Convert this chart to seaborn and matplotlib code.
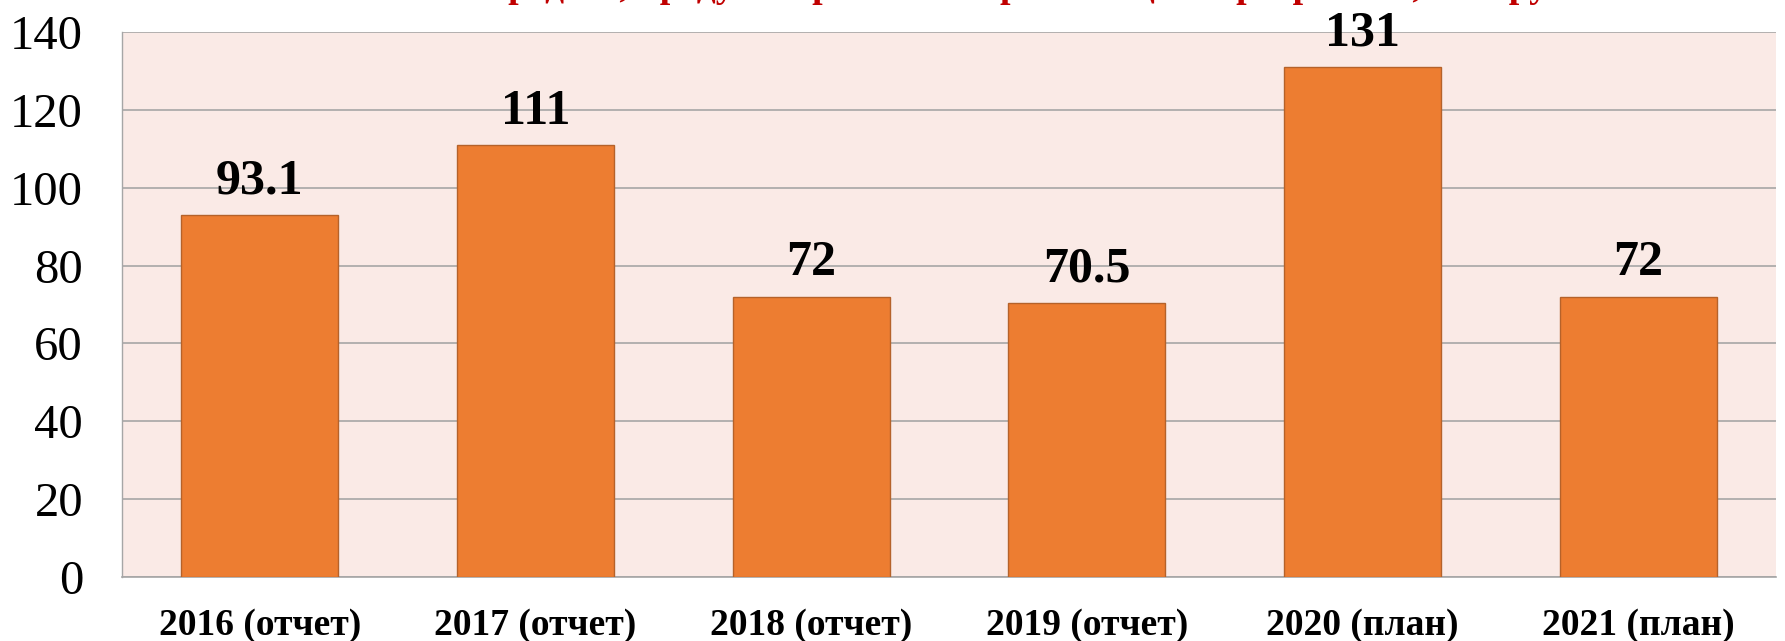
import matplotlib
matplotlib.use("Agg")
import matplotlib.pyplot as plt
import seaborn as sns
import pandas as pd

categories = ["2016 (отчет)", "2017 (отчет)", "2018 (отчет)", "2019 (отчет)", "2020 (план)", "2021 (план)"]
values = [93.1, 111, 72, 70.5, 131, 72]
value_labels = ["93.1", "111", "72", "70.5", "131", "72"]
yticks = [0, 20, 40, 60, 80, 100, 120, 140]
title = "Объем средств, предусмотренных на реализацию программы, млн руб."

sns.set_theme(style="white")
plt.rcParams["font.family"] = ["Liberation Serif", "DejaVu Serif"]

df = pd.DataFrame({"cat": categories, "val": values})

fig = plt.figure(figsize=(17.85, 6.41), dpi=100)
ax = fig.add_axes([0.0683, 0.0998, 0.9267, 0.8502])
ax.set_facecolor("#FAEAE6")

sns.barplot(data=df, x="cat", y="val", color="#ED7D31", width=0.57,
            edgecolor="#B5622A", linewidth=1.0, saturation=1, ax=ax, zorder=3)

ax.set_ylim(0, 140)
ax.set_xlim(-0.5, len(categories) - 0.5)
ax.set_yticks(yticks)
ax.set_yticklabels([str(t) for t in yticks], fontsize=35, color="black")
ax.set_xticks(range(len(categories)))
ax.set_xticklabels(categories, fontsize=27, fontweight="bold", color="black")
ax.tick_params(axis="y", length=0, pad=28)
ax.tick_params(axis="x", length=0, pad=22)
ax.set_xlabel("")
ax.set_ylabel("")

for t in yticks:
    ax.axhline(t, color="#A6A6A6", linewidth=1.2, zorder=1)

for s in ["top", "right"]:
    ax.spines[s].set_visible(False)
ax.spines["left"].set_color("#A6A6A6")
ax.spines["bottom"].set_color("#A6A6A6")
ax.spines["left"].set_linewidth(1.0)
ax.spines["bottom"].set_linewidth(1.2)

for i, (v, lab) in enumerate(zip(values, value_labels)):
    ax.annotate(lab, (i, v), xytext=(0, 24), textcoords="offset points",
                ha="center", va="center", fontsize=36, fontweight="bold",
                color="black", zorder=5)

fig.text(0.545, 1.0 + 3 / 641, title, ha="center", va="baseline", fontsize=27,
         fontweight="bold", color="#C00000")

fig.savefig("out.png", dpi=100)
